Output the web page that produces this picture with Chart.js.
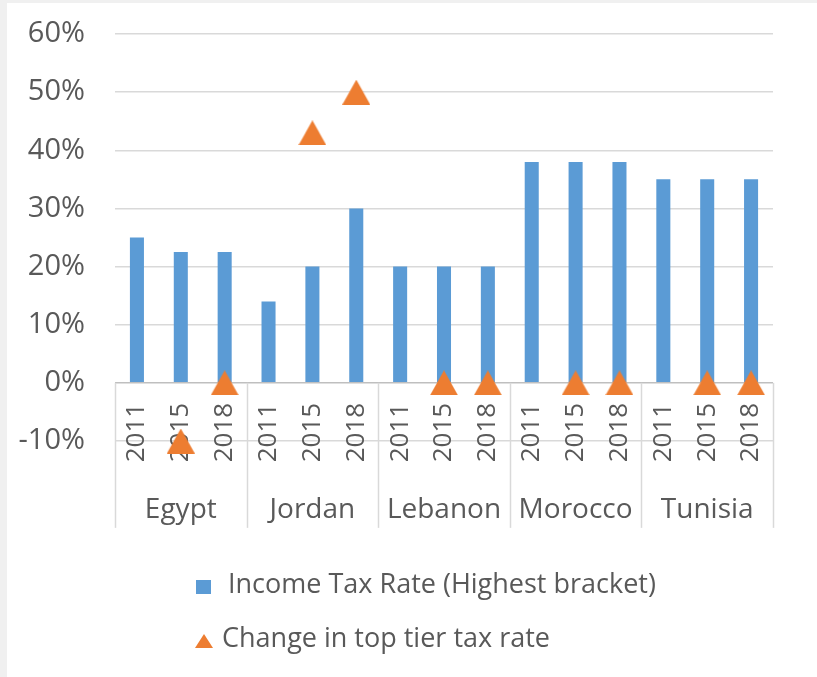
<!DOCTYPE html>
<html>
<head>
<meta charset="utf-8">
<script src="https://cdn.jsdelivr.net/npm/chart.js@4.4.1/dist/chart.umd.min.js"></script>
<style>
  html, body { margin: 0; padding: 0; background: #f0f0f0; }
  #wrap { position: absolute; left: 7px; top: 3px; width: 810px; height: 674px; background: #fff; }
  #chart { position: absolute; left: -7px; top: -3px; }
  .leg { position: absolute; font-family: "Open Sans", sans-serif; font-size: 27px; color: #595959; white-space: nowrap; }
  .sw { display: inline-block; position: absolute; }
</style>
</head>
<body>
<div id="wrap">
  <canvas id="chart" width="817" height="677"></canvas>
  <div class="leg" style="left:189px; top:561px;"><span class="sw" style="left:0; top:16px; width:15px; height:14px; background:#5b9bd5;"></span><span style="margin-left:32px;">Income Tax Rate (Highest bracket)</span></div>
  <div class="leg" style="left:188px; top:615px;"><span class="sw" style="left:0; top:16px; width:0; height:0; border-left:9px solid transparent; border-right:9px solid transparent; border-bottom:14px solid #ed7d31;"></span><span style="margin-left:27px;">Change in top tier tax rate</span></div>
</div>
<script>
// data
const countries = ['Egypt', 'Jordan', 'Lebanon', 'Morocco', 'Tunisia'];
const years = ['2011', '2015', '2018'];
const taxRate = [25, 22.5, 22.5, 14, 20, 30, 20, 20, 20, 38, 38, 38, 35, 35, 35];
const taxChange = [null, -10, 0, null, 43, 50, null, 0, 0, null, 0, 0, null, 0, 0];
const yTicks = [-10, 0, 10, 20, 30, 40, 50, 60];

const labels = [];
countries.forEach(c => years.forEach(y => labels.push(y)));

const FONT = '"Open Sans", sans-serif';

// triangle marker centred in its own box, like the Excel one
const tri = document.createElement('canvas');
tri.width = 28; tri.height = 25;
const tctx = tri.getContext('2d');
tctx.fillStyle = '#ed7d31';
tctx.beginPath();
tctx.moveTo(14, 0);
tctx.lineTo(28, 25);
tctx.lineTo(0, 25);
tctx.closePath();
tctx.fill();

// group labels + separators under the year ticks
const groupPlugin = {
  id: 'groups',
  afterDraw(chart) {
    const x = chart.scales.x, y = chart.scales.y;
    const ctx = chart.ctx;
    const y0 = y.getPixelForValue(0);
    ctx.save();
    ctx.strokeStyle = '#d9d9d9';
    ctx.lineWidth = 1.5;
    for (let g = 0; g <= countries.length; g++) {
      const px = Math.round(x.getPixelForValue(g * years.length - 0.5)) + 0.5;
      ctx.beginPath();
      ctx.moveTo(px, y0);
      ctx.lineTo(px, y0 + 145);
      ctx.stroke();
    }
    ctx.fillStyle = '#595959';
    ctx.font = '28px ' + FONT;
    ctx.textAlign = 'center';
    ctx.textBaseline = 'middle';
    countries.forEach((c, g) => {
      const cx = x.getPixelForValue(g * years.length + 1);
      ctx.fillText(c, cx, y0 + 127);
    });
    ctx.restore();
  }
};

new Chart(document.getElementById('chart'), {
  type: 'bar',
  data: {
    labels: labels,
    datasets: [{
      type: 'line',
      label: 'Change in top tier tax rate',
      data: taxChange,
      showLine: false,
      pointStyle: tri,
      pointRadius: 14,
      pointHoverRadius: 14,
      backgroundColor: '#ed7d31',
      borderColor: '#ed7d31',
      clip: false,
      order: 0
    }, {
      label: 'Income Tax Rate (Highest bracket)',
      data: taxRate,
      backgroundColor: '#5b9bd5',
      barPercentage: 0.32,
      categoryPercentage: 1,
      order: 1
    }]
  },
  options: {
    responsive: false,
    animation: false,
    layout: { padding: { left: 10, right: 44, top: 34, bottom: 236 } },
    plugins: { legend: { display: false }, tooltip: { enabled: false } },
    scales: {
      x: {
        position: { y: 0 },
        offset: true,
        grid: { display: false, drawTicks: false },
        border: { display: false },
        ticks: {
          minRotation: 90, maxRotation: 90, autoSkip: false,
          padding: 20,
          color: '#595959',
          font: { family: FONT, size: 26 }
        }
      },
      y: {
        min: -10, max: 60,
        afterBuildTicks: s => { s.ticks = yTicks.map(v => ({ value: v })); },
        afterFit: s => { s.width = 105; s.paddingTop = 0; s.paddingBottom = 0; },
        grid: {
          color: ctx => ctx.tick && ctx.tick.value === 0 ? '#bfbfbf' : '#d9d9d9',
          lineWidth: 1.5,
          drawTicks: false
        },
        border: { display: false },
        ticks: {
          padding: 30,
          color: '#595959',
          font: { family: FONT, size: 29 },
          callback: v => v + '%'
        }
      }
    }
  },
  plugins: [groupPlugin]
});
</script>
</body>
</html>
